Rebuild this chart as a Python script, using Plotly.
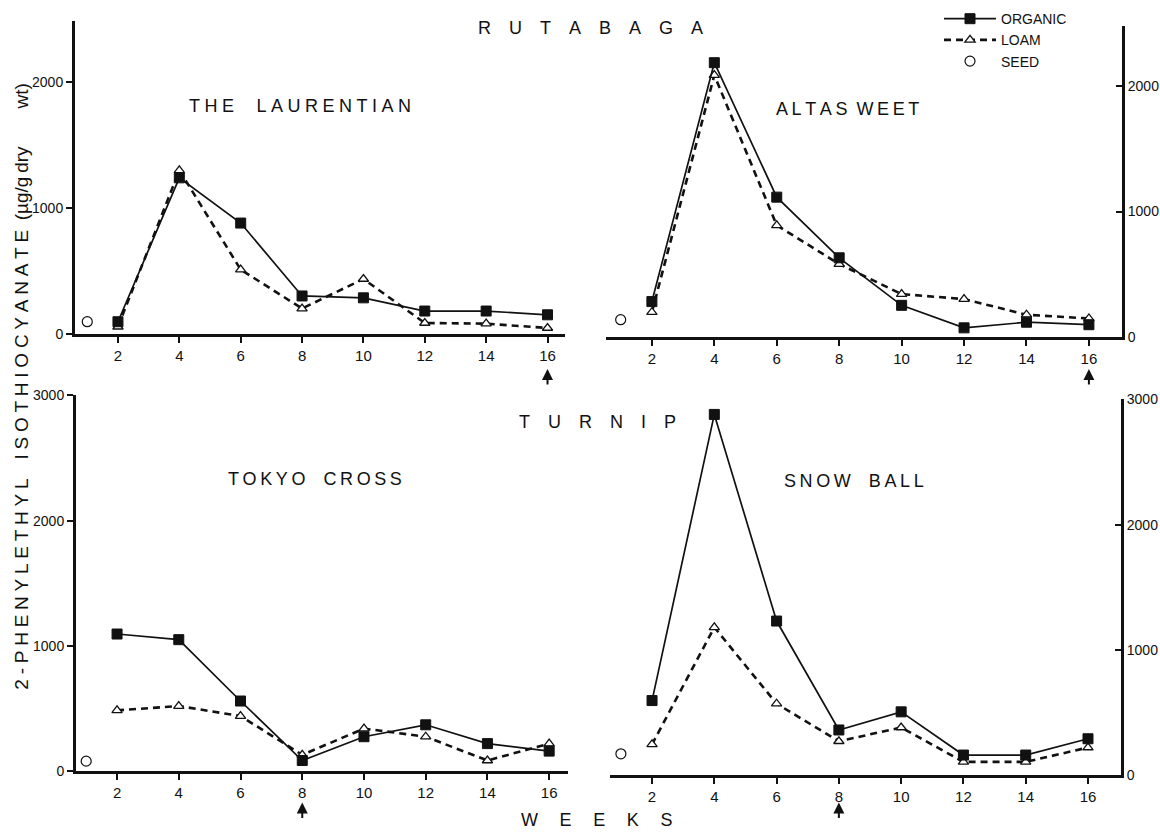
import plotly.graph_objects as go

# ---------------- data ----------------
weeks = [2, 4, 6, 8, 10, 12, 14, 16]
week_ticks = [2, 4, 6, 8, 10, 12, 14, 16]
seed_week = [1]

laurentian_organic = [95, 1240, 880, 300, 285, 180, 180, 150]
laurentian_loam = [55, 1300, 510, 200, 435, 85, 80, 45]
laurentian_seed = [95]

altasweet_organic = [280, 2190, 1115, 630, 250, 70, 115, 95]
altasweet_loam = [195, 2090, 890, 580, 340, 300, 175, 145]
altasweet_seed = [135]

tokyo_organic = [1095, 1050, 560, 85, 275, 370, 220, 160]
tokyo_loam = [485, 520, 440, 130, 340, 275, 85, 220]
tokyo_seed = [80]

snowball_organic = [595, 2880, 1230, 360, 505, 160, 160, 290]
snowball_loam = [245, 1180, 570, 270, 380, 105, 105, 220]
snowball_seed = [170]

panel_names = ["THE LAURENTIAN", "ALTAS WEET", "TOKYO CROSS", "SNOW BALL"]
harvest_week = [16, 16, 8, 8]
y_ticks_top = [0, 1000, 2000]
y_ticks_bottom = [0, 1000, 2000, 3000]

# ---------------- style ----------------
W, H = 1160, 838
FONT = "Liberation Sans, Arial, sans-serif"
BLACK = "#111111"


def px_x(p):
    return p / W


def px_y(p):
    return (H - p) / H


def spaced(s, sep="\u2005", word="\u2003\u2005"):
    words = s.split(" ")
    return word.join(sep.join(list(w)) for w in words)


fig = go.Figure()

panels = [
    ("x", "y", laurentian_organic, laurentian_loam, laurentian_seed),
    ("x2", "y2", altasweet_organic, altasweet_loam, altasweet_seed),
    ("x3", "y3", tokyo_organic, tokyo_loam, tokyo_seed),
    ("x4", "y4", snowball_organic, snowball_loam, snowball_seed),
]

for i, (xa, ya, org, loam, seed) in enumerate(panels):
    first = i == 0
    fig.add_trace(go.Scatter(
        x=weeks, y=loam, xaxis=xa, yaxis=ya, mode="lines+markers",
        name="LOAM", showlegend=first, legendrank=2,
        line=dict(color=BLACK, width=2.6, dash="7px,5px"),
        marker=dict(symbol="triangle-up", size=9, color="white",
                    line=dict(color=BLACK, width=1.3)),
    ))
    fig.add_trace(go.Scatter(
        x=weeks, y=org, xaxis=xa, yaxis=ya, mode="lines+markers",
        name="ORGANIC", showlegend=first, legendrank=1,
        line=dict(color=BLACK, width=1.7),
        marker=dict(symbol="square", size=10, color=BLACK,
                    line=dict(color=BLACK, width=1)),
    ))
    fig.add_trace(go.Scatter(
        x=seed_week, y=seed, xaxis=xa, yaxis=ya, mode="markers",
        name="SEED", showlegend=first, legendrank=3,
        marker=dict(symbol="circle-open", size=10, color=BLACK,
                    line=dict(color=BLACK, width=1.2)),
    ))


def xaxis(domain, rng, anchor):
    return dict(domain=domain, range=rng, anchor=anchor,
                tickvals=week_ticks, ticks="outside", ticklen=6, tickwidth=2,
                tickcolor=BLACK, showline=True, linewidth=3, linecolor=BLACK,
                showgrid=False, zeroline=False,
                tickfont=dict(family=FONT, size=15, color=BLACK), fixedrange=True)


def yaxis(domain, rng, anchor, ticks, side):
    return dict(domain=domain, range=rng, anchor=anchor, side=side,
                tickvals=ticks, ticks="outside" if side == "left" else "inside",
                ticklen=6, tickwidth=2, tickcolor=BLACK,
                showline=True, linewidth=3, linecolor=BLACK,
                showgrid=False, zeroline=False,
                tickfont=dict(family=FONT, size=14, color=BLACK), fixedrange=True)


fig.update_layout(
    width=W, height=H,
    margin=dict(l=0, r=0, t=0, b=0),
    paper_bgcolor="white", plot_bgcolor="rgba(0,0,0,0)",
    xaxis=xaxis([px_x(75), px_x(565)], [0.6, 16.57], "y"),
    yaxis=yaxis([px_y(332), px_y(13)], [0, 2490], "x", y_ticks_top, "left"),
    xaxis2=xaxis([px_x(606), px_x(1122)], [0.53, 17.06], "y2"),
    yaxis2=yaxis([px_y(335), px_y(18)], [0, 2486], "x2", y_ticks_top, "right"),
    xaxis3=xaxis([px_x(76), px_x(568)], [0.67, 16.61], "y3"),
    yaxis3=yaxis([px_y(778), px_y(395)], [0, 3000], "x3", y_ticks_bottom, "left"),
    xaxis4=xaxis([px_x(610), px_x(1121)], [0.65, 17.06], "y4"),
    yaxis4=yaxis([px_y(782), px_y(399)], [0, 3000], "x4", y_ticks_bottom, "right"),
    legend=dict(x=px_x(939), y=px_y(-5), xanchor="left", yanchor="top",
                font=dict(family=FONT, size=14, color=BLACK),
                bgcolor="rgba(0,0,0,0)", itemwidth=52, tracegroupgap=0,
                traceorder="normal"),
    showlegend=True,
)

ann = []


def label(text, x, y, size=18, angle=0):
    return dict(text=text, x=px_x(x), y=px_y(y), xref="paper", yref="paper",
                xanchor="center", yanchor="middle", showarrow=False,
                textangle=angle, font=dict(family=FONT, size=size, color=BLACK))


# group titles
ann.append(label(spaced("RUTABAGA", "\u2003"), 590, 20))
ann.append(label(spaced("TURNIP", "\u2003"), 597, 422))
ann.append(label(spaced("WEEKS", "\u2003\u2009"), 596, 828))
# panel titles (letter spacing per title)
title_specs = [
    ((300, 100), "\u2005", "\u2003\u2005"),
    ((847, 103), "\u2009", "\u2002"),
    ((315, 480), "\u2009", "\u2003"),
    ((854, 482), "\u2009", "\u2003"),
]
for name, ((tx, ty), sep, gap) in zip(panel_names, title_specs):
    ann.append(label(spaced(name, sep, gap), tx, ty))
# y-axis title
ylabel = (spaced("2-PHENYLETHYL") + "\u2003" + spaced("ISOTHIOCYANATE")
          + "\u2002(\u00b5g/g\u2009dry\u2003\u2003wt)")
ann.append(label(ylabel, 22, 386, size=19, angle=-90))
# harvest arrows
arrow_specs = [("x", 368), ("x2", 368), ("x3", 810), ("x4", 810)]
for (xr, tip), wk in zip(arrow_specs, harvest_week):
    ann.append(dict(x=wk, y=px_y(tip), xref=xr, yref="paper", text="",
                    showarrow=True, ax=0, ay=17, arrowhead=2, arrowsize=1.1,
                    arrowwidth=2, arrowcolor=BLACK, standoff=0))
fig.update_layout(annotations=ann)

fig.write_html("out.html", config={"displayModeBar": False},
               post_script="document.body.style.margin='0';")
